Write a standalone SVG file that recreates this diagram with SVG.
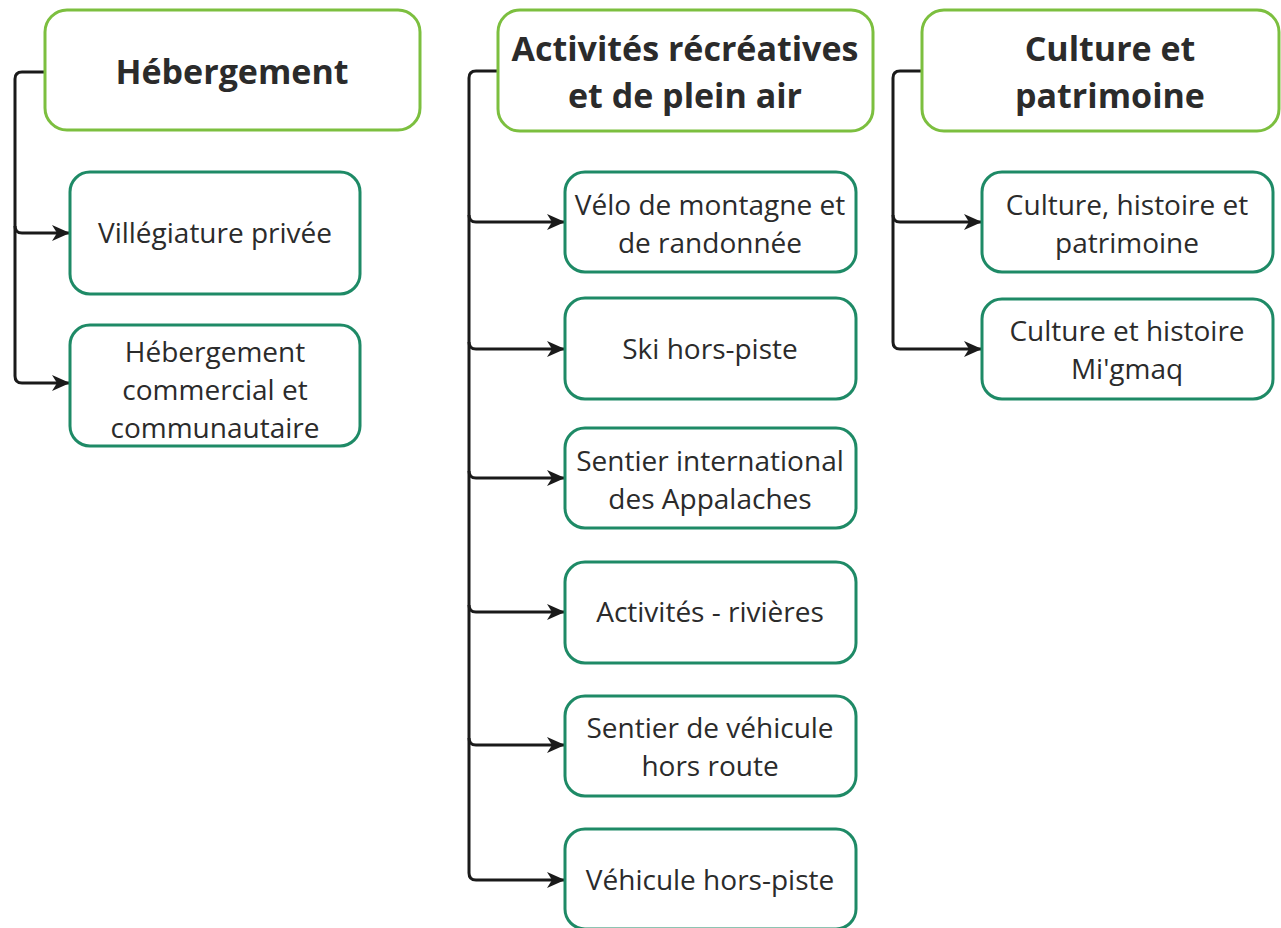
<svg xmlns="http://www.w3.org/2000/svg" width="1281" height="928" viewBox="0 0 1281 928">
<defs>
<style>
.hdr{fill:#fff;stroke:#7cbf3f;stroke-width:3}
.box{fill:#fff;stroke:#1e8a66;stroke-width:3}
.ht{font-family:"Open Sans","Liberation Sans",sans-serif;font-weight:700;font-size:34px;fill:#2b2b2b;text-anchor:middle}
.bt{font-family:"Open Sans","Liberation Sans",sans-serif;font-size:28px;fill:#2b2b2b;text-anchor:middle}
.c{fill:none;stroke:#1a1a1a;stroke-width:3;stroke-linejoin:round}
</style>
<marker id="ah" viewBox="0 0 18 18" refX="17" refY="9" markerWidth="18" markerHeight="18" markerUnits="userSpaceOnUse" orient="auto">
<path d="M0,1 L18,9 L0,17 L5,9 Z" fill="#1a1a1a"/>
</marker>
</defs>
<rect width="1281" height="928" fill="#fff"/>
<g id="connectors">
<path class="c" d="M45,72 H22 Q15,72 15,79 V376 Q15,383 22,383 H69" marker-end="url(#ah)"/>
<path class="c" d="M15,226 Q15,233 22,233 H69" marker-end="url(#ah)"/>
<path class="c" d="M498,71 H476 Q469,71 469,78 V873 Q469,880 476,880 H564" marker-end="url(#ah)"/>
<path class="c" d="M469,215 Q469,222 476,222 H564" marker-end="url(#ah)"/>
<path class="c" d="M469,342 Q469,349 476,349 H564" marker-end="url(#ah)"/>
<path class="c" d="M469,471 Q469,478 476,478 H564" marker-end="url(#ah)"/>
<path class="c" d="M469,605 Q469,612 476,612 H564" marker-end="url(#ah)"/>
<path class="c" d="M469,738 Q469,745 476,745 H564" marker-end="url(#ah)"/>
<path class="c" d="M922,71 H900 Q893,71 893,78 V342 Q893,349 900,349 H981" marker-end="url(#ah)"/>
<path class="c" d="M893,215 Q893,222 900,222 H981" marker-end="url(#ah)"/>
</g>
<g id="h1"><rect class="hdr" x="45" y="10" width="375" height="120" rx="22"/><text class="ht" x="232" y="84">Hébergement</text></g>
<g id="h2"><rect class="hdr" x="498" y="10" width="375" height="121" rx="22"/><text class="ht" x="685" y="61">Activités récréatives</text><text class="ht" x="685" y="108">et de plein air</text></g>
<g id="h3"><rect class="hdr" x="922" y="10" width="357" height="121" rx="22"/><text class="ht" x="1110" y="61">Culture et</text><text class="ht" x="1110" y="108">patrimoine</text></g>
<g id="n1"><rect class="box" x="70" y="172" width="290" height="122" rx="20"/><text class="bt" x="215" y="243">Villégiature privée</text></g>
<g id="n2"><rect class="box" x="70" y="325" width="290" height="121" rx="20"/><text class="bt" x="215" y="362">Hébergement</text><text class="bt" x="215" y="400">commercial et</text><text class="bt" x="215" y="438">communautaire</text></g>
<g id="n3"><rect class="box" x="565" y="172" width="291" height="100" rx="20"/><text class="bt" x="710" y="215">Vélo de montagne et</text><text class="bt" x="710" y="253">de randonnée</text></g>
<g id="n4"><rect class="box" x="565" y="298" width="291" height="101" rx="20"/><text class="bt" x="710" y="359">Ski hors-piste</text></g>
<g id="n5"><rect class="box" x="565" y="428" width="291" height="100" rx="20"/><text class="bt" x="710" y="471">Sentier international</text><text class="bt" x="710" y="509">des Appalaches</text></g>
<g id="n6"><rect class="box" x="565" y="562" width="291" height="101" rx="20"/><text class="bt" x="710" y="622">Activités - rivières</text></g>
<g id="n7"><rect class="box" x="565" y="696" width="291" height="100" rx="20"/><text class="bt" x="710" y="738">Sentier de véhicule</text><text class="bt" x="710" y="776">hors route</text></g>
<g id="n8"><rect class="box" x="565" y="829" width="291" height="100" rx="20"/><text class="bt" x="710" y="890">Véhicule hors-piste</text></g>
<g id="n9"><rect class="box" x="982" y="172" width="291" height="100" rx="20"/><text class="bt" x="1127" y="215">Culture, histoire et</text><text class="bt" x="1127" y="253">patrimoine</text></g>
<g id="n10"><rect class="box" x="982" y="299" width="291" height="100" rx="20"/><text class="bt" x="1127" y="341">Culture et histoire</text><text class="bt" x="1127" y="379">Mi'gmaq</text></g>
</svg>
